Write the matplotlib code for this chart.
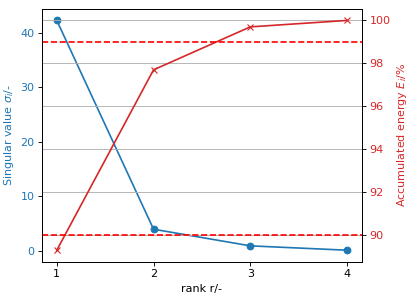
import matplotlib
matplotlib.use("Agg")
import matplotlib.pyplot as plt

ranks = [1, 2, 3, 4]
singular_values = [42.25, 3.97, 0.92, 0.12]
accumulated_energy = [89.3, 97.7, 99.7, 100.0]
thresholds = [90, 99]

DPI = 80
fig, ax1 = plt.subplots(figsize=(409 / DPI, 298 / DPI), dpi=DPI)
fig.subplots_adjust(left=0.1034, right=0.884, bottom=0.1218, top=0.970)

c1 = "tab:blue"
c2 = "tab:red"
ax1.plot(ranks, singular_values, color=c1, marker="o")
ax1.set_xlabel("rank r/-")
ax1.set_ylabel(r"Singular value $\sigma_i$/-", color=c1)
ax1.tick_params(axis="y", labelcolor=c1)
ax1.set_xticks(ranks)

ax2 = ax1.twinx()
ax2.plot(ranks, accumulated_energy, color=c2, marker="x")
ax2.set_ylabel(r"Accumulated energy $E_i$/%", color=c2)
ax2.tick_params(axis="y", labelcolor=c2)
ax2.grid(True)
for t in thresholds:
    ax2.axhline(t, color="r", linestyle="--")

fig.savefig("out.png", dpi=DPI)
